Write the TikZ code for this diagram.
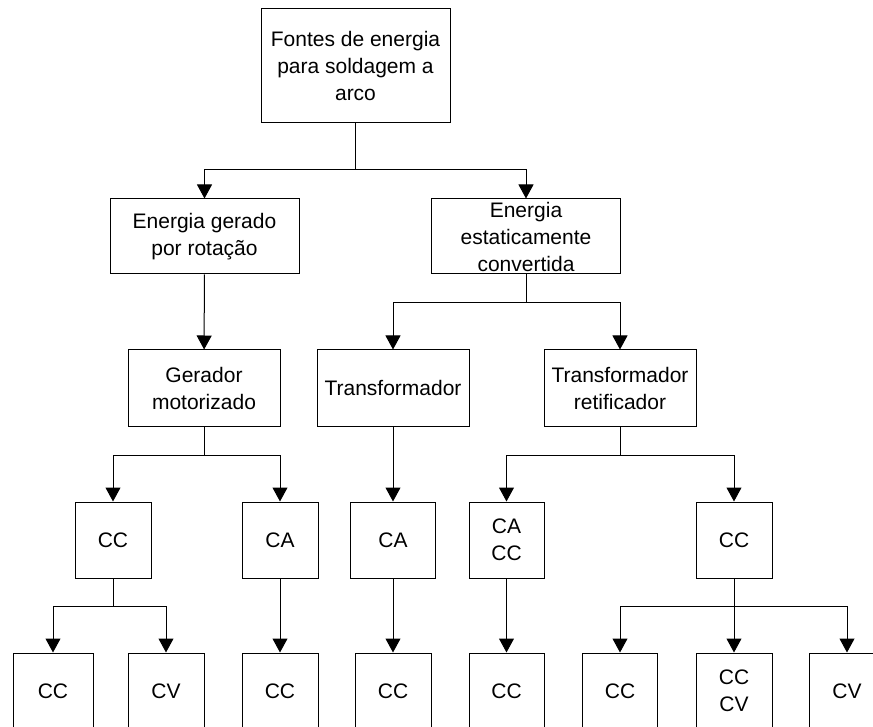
\documentclass[tikz,border=0pt]{standalone}
\usepackage{fontspec}
\setmainfont{Liberation Sans}
\usetikzlibrary{arrows.meta}
\begin{document}
\begin{tikzpicture}[x=1pt,y=-1pt,line width=1pt,
    caixa/.style={draw,align=center,inner sep=0pt,minimum height=76pt,
      font=\fontsize{21}{27}\selectfont},
    seta/.style={-{Triangle[width=15pt,length=14pt]}}]
    \clip (0,0) rectangle (873,727);
    % caixas
    \node[caixa,minimum width=189pt,minimum height=114pt] (fontes) at (355.5,66) {Fontes de energia\\para soldagem a\\arco};
    \node[caixa,minimum width=189pt,minimum height=75pt] (rotacao) at (204.5,236.5) {Energia gerado\\por rotação};
    \node[caixa,minimum width=189pt,minimum height=75pt] (estatica) at (526,236.5) {Energia\\estaticamente\\convertida};
    \node[caixa,minimum width=152pt] (gerador) at (204,388) {Gerador\\motorizado};
    \node[caixa,minimum width=152pt] (transf) at (393,388) {Transformador};
    \node[caixa,minimum width=152pt] (retif) at (620,388) {Transformador\\retificador};
    \node[caixa,minimum width=76pt] (gCC) at (113,540) {CC};
    \node[caixa,minimum width=76pt] (gCA) at (280,540) {CA};
    \node[caixa,minimum width=85pt] (tCA) at (393,540) {CA};
    \node[caixa,minimum width=75pt] (rCACC) at (506.5,540) {CA\\CC};
    \node[caixa,minimum width=76pt] (rCC) at (734,540) {CC};
    \node[caixa,minimum width=80pt] (s1) at (53,691) {CC};
    \node[caixa,minimum width=76pt] (s2) at (166,691) {CV};
    \node[caixa,minimum width=76pt] (s3) at (280,691) {CC};
    \node[caixa,minimum width=76pt] (s4) at (393,691) {CC};
    \node[caixa,minimum width=75pt] (s5) at (506.5,691) {CC};
    \node[caixa,minimum width=75pt] (s6) at (620,691) {CC};
    \node[caixa,minimum width=76pt] (s7) at (734,691) {CC\\CV};
    \node[caixa,minimum width=76pt] (s8) at (847,691) {CV};
    % pontos de ramificação
    \coordinate (j1) at (355.5,170);
    \coordinate (j2) at (526,303);
    \coordinate (j3) at (204,455);
    \coordinate (j4) at (620,455);
    \coordinate (j5) at (113,606);
    \coordinate (j6) at (734,606);
    \draw (fontes) -- (j1);
    \draw[seta] (j1) -| (rotacao);
    \draw[seta] (j1) -| (estatica);
    \draw[seta] (rotacao) -- (gerador);
    \draw (estatica) -- (j2);
    \draw[seta] (j2) -| (transf);
    \draw[seta] (j2) -| (retif);
    \draw (gerador) -- (j3);
    \draw[seta] (j3) -| (gCC);
    \draw[seta] (j3) -| (gCA);
    \draw[seta] (transf) -- (tCA);
    \draw (retif) -- (j4);
    \draw[seta] (j4) -| (rCACC);
    \draw[seta] (j4) -| (rCC);
    \draw (gCC) -- (j5);
    \draw[seta] (j5) -| (s1);
    \draw[seta] (j5) -| (s2);
    \draw[seta] (gCA) -- (s3);
    \draw[seta] (tCA) -- (s4);
    \draw[seta] (rCACC) -- (s5);
    \draw[seta] (rCC) -- (s7);
    \draw[seta] (j6) -| (s6);
    \draw[seta] (j6) -| (s8);
\end{tikzpicture}
\end{document}
